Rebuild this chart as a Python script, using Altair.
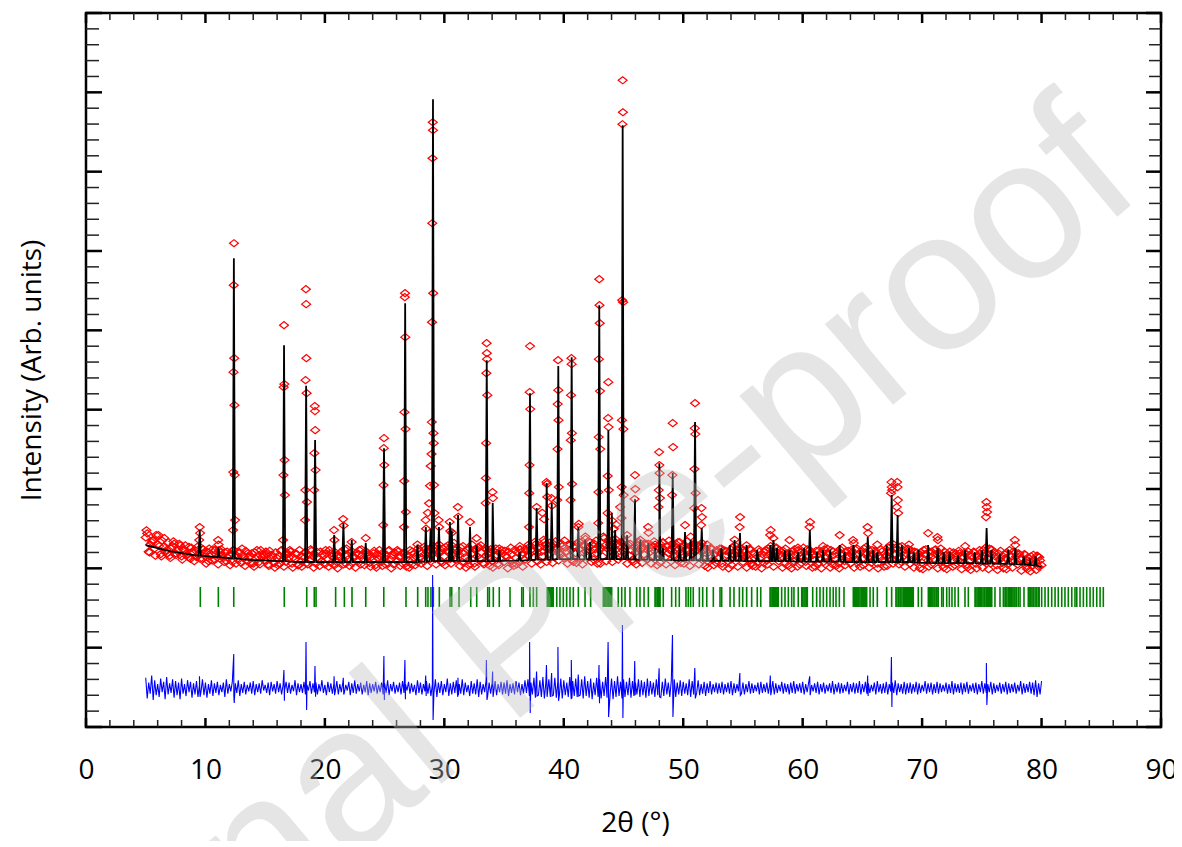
import altair as alt
import pandas as pd

FONT = "Open Sans"

# ---------------- data ----------------
# observed background, scan grid 5.000, 5.250, ... 80.000 deg
obs_bg_y = [
    2390, 2210, 2330, 2250, 2300, 2180, 2270, 2230, 2160, 2280, 2190, 2240,
    2150, 2230, 2170, 2120, 2200, 2140, 2180, 2120, 2150, 2090, 2170, 2110,
    2140, 2200, 2130, 2090, 2160, 2080, 2140, 2110, 2070, 2130, 2090, 2150,
    2060, 2120, 2080, 2140, 2100, 2050, 2120, 2070, 2130, 2060, 2110, 2080,
    2140, 2060, 2110, 2040, 2090, 2130, 2070, 2100, 2150, 2060, 2120, 2090,
    2050, 2110, 2070, 2130, 2080, 2140, 2100, 2060, 2120, 2070, 2140, 2090,
    2050, 2110, 2150, 2070, 2100, 2040, 2120, 2080, 2130, 2070, 2110, 2050,
    2090, 2140, 2060, 2120, 2100, 2050, 2130, 2080, 2140, 2090, 2170, 2110,
    2180, 2120, 2200, 2090, 2150, 2230, 2120, 2190, 2110, 2170, 2080, 2140,
    2100, 2180, 2060, 2150, 2120, 2070, 2160, 2200, 2090, 2150, 2060, 2120,
    2080, 2140, 2100, 2060, 2130, 2090, 2170, 2110, 2160, 2230, 2140, 2200,
    2260, 2150, 2300, 2180, 2220, 2140, 2250, 2170, 2130, 2210, 2160, 2100,
    2190, 2240, 2130, 2280, 2160, 2220, 2110, 2190, 2230, 2150, 2290, 2340,
    2260, 2180, 2310, 2140, 2220, 2280, 2160, 2110, 2200, 2140, 2250, 2170,
    2120, 2210, 2150, 2240, 2180, 2260, 2140, 2190, 2230, 2150, 2110, 2200,
    2170, 2240, 2130, 2180, 2210, 2150, 2260, 2120, 2090, 2160, 2110, 2070,
    2130, 2060, 2150, 2090, 2110, 2170, 2240, 2130, 2080, 2150, 2100, 2060,
    2120, 2080, 2140, 2070, 2100, 2180, 2130, 2210, 2090, 2140, 2060, 2120,
    2170, 2090, 2110, 2050, 2130, 2080, 2150, 2210, 2100, 2060, 2120, 2080,
    2140, 2090, 2050, 2110, 2070, 2190, 2090, 2130, 2060, 2150, 2110, 2080,
    2120, 2200, 2140, 2070, 2110, 2060, 2130, 2090, 2150, 2200, 2110, 2180,
    2130, 2080, 2160, 2100, 2060, 2120, 2080, 2140, 2070, 2180, 2100, 2050,
    2120, 2170, 2080, 2110, 2060, 2130, 2090, 2040, 2100, 2070, 2140, 2050,
    2090, 2130, 2060, 2110, 2140, 2080, 2120, 2060, 2100, 2040, 2110, 2070,
    2130, 2060, 2150, 2090, 2050, 2110, 2070, 2030, 2090, 2040, 2080, 2020,
    2040,
]
obs_bg_x = [round(5 + 0.25 * i, 4) for i in range(len(obs_bg_y))]
# observed background, scan grid 5.125, 5.375, ... 79.875 deg
obs_bg2_y = [
    2440, 2300, 2360, 2420, 2280, 2350, 2210, 2330, 2250, 2310, 2220, 2290,
    2240, 2190, 2270, 2200, 2230, 2170, 2260, 2190, 2210, 2150, 2240, 2180,
    2230, 2160, 2200, 2140, 2190, 2230, 2160, 2200, 2170, 2220, 2140, 2190,
    2200, 2150, 2230, 2160, 2180, 2220, 2140, 2200, 2160, 2230, 2150, 2190,
    2210, 2140, 2180, 2230, 2150, 2200, 2170, 2220, 2180, 2140, 2210, 2160,
    2190, 2230, 2150, 2200, 2170, 2210, 2240, 2160, 2200, 2150, 2190, 2230,
    2160, 2210, 2170, 2140, 2220, 2180, 2150, 2200, 2170, 2230, 2160, 2190,
    2210, 2150, 2200, 2170, 2230, 2180, 2150, 2210, 2190, 2240, 2200, 2260,
    2230, 2280, 2210, 2250, 2270, 2200, 2290, 2230, 2210, 2260, 2190, 2240,
    2250, 2190, 2230, 2270, 2200, 2250, 2180, 2240, 2220, 2170, 2210, 2190,
    2160, 2210, 2180, 2230, 2200, 2240, 2190, 2220, 2270, 2210, 2300, 2250,
    2210, 2330, 2250, 2290, 2310, 2240, 2200, 2280, 2260, 2300, 2230, 2270,
    2320, 2250, 2290, 2210, 2270, 2300, 2240, 2280, 2260, 2380, 2250, 2300,
    2350, 2240, 2280, 2320, 2250, 2300, 2230, 2270, 2290, 2230, 2260, 2310,
    2250, 2290, 2220, 2270, 2300, 2240, 2280, 2230, 2270, 2310, 2240, 2260,
    2290, 2230, 2270, 2310, 2240, 2280, 2220, 2250, 2200, 2240, 2180, 2220,
    2190, 2230, 2170, 2210, 2260, 2200, 2230, 2180, 2210, 2170, 2230, 2190,
    2160, 2210, 2180, 2230, 2250, 2190, 2270, 2200, 2180, 2220, 2160, 2200,
    2210, 2170, 2230, 2160, 2200, 2240, 2190, 2170, 2220, 2180, 2200, 2150,
    2190, 2230, 2170, 2200, 2240, 2180, 2210, 2160, 2200, 2240, 2170, 2210,
    2250, 2190, 2220, 2170, 2200, 2160, 2210, 2180, 2260, 2220, 2300, 2240,
    2270, 2210, 2190, 2230, 2170, 2210, 2160, 2200, 2230, 2180, 2210, 2160,
    2240, 2200, 2170, 2210, 2180, 2150, 2200, 2160, 2190, 2140, 2180, 2210,
    2160, 2200, 2150, 2190, 2230, 2180, 2250, 2170, 2150, 2190, 2140, 2180,
    2200, 2160, 2210, 2150, 2180, 2130, 2170, 2140, 2150, 2110, 2160, 2100,
]
obs_bg2_x = [round(5.125 + 0.25 * i, 4) for i in range(len(obs_bg2_y))]
# observed background, scan grid 5.0625, 5.3125, ... 79.8125 deg
obs_bg3_y = [
    2480, 2200, 2350, 2160, 2420, 2150, 2380, 2190, 2130, 2340, 2170, 2310,
    2110, 2290, 2140, 2260, 2090, 2270, 2120, 2240, 2060, 2250, 2100, 2230,
    2050, 2240, 2080, 2210, 2040, 2230, 2060, 2200, 2250, 2030, 2190, 2060,
    2020, 2230, 2050, 2180, 2210, 2030, 2170, 2010, 2040, 2220, 2020, 2180,
    2230, 2010, 2190, 2040, 2020, 2200, 2050, 2240, 2010, 2210, 2030, 2180,
    2230, 2020, 2190, 2040, 2000, 2200, 2050, 2250, 2030, 2210, 2010, 2180,
    2240, 2040, 2200, 2020, 2190, 2010, 2230, 2030, 2050, 2220, 2000, 2200,
    2230, 2030, 2180, 2020, 2010, 2210, 2040, 2250, 2060, 2270, 2030, 2230,
    2280, 2050, 2300, 2070, 2040, 2290, 2060, 2320, 2250, 2030, 2280, 2010,
    2040, 2300, 2020, 2260, 2290, 2050, 2240, 2030, 2010, 2250, 2040, 2230,
    2220, 2000, 2260, 2030, 2050, 2280, 2020, 2240, 2300, 2060, 2330, 2090,
    2050, 2360, 2080, 2320, 2070, 2340, 2100, 2310, 2350, 2060, 2300, 2080,
    2070, 2330, 2050, 2370, 2340, 2080, 2310, 2060, 2060, 2400, 2090, 2350,
    2080, 2370, 2110, 2330, 2340, 2060, 2310, 2080, 2050, 2330, 2070, 2300,
    2310, 2060, 2340, 2040, 2070, 2320, 2050, 2350, 2310, 2040, 2330, 2070,
    2060, 2340, 2030, 2290, 2300, 2050, 2320, 2030, 2010, 2260, 2040, 2230,
    2250, 2020, 2220, 2000, 2040, 2290, 2020, 2250, 2230, 2010, 2250, 2030,
    2020, 2240, 2000, 2210, 2050, 2280, 2020, 2260, 2230, 2010, 2250, 2030,
    2000, 2240, 2020, 2200, 2260, 2030, 2230, 2010, 2020, 2220, 2000, 2240,
    2250, 2010, 2210, 2030, 2000, 2260, 2040, 2220, 2230, 2010, 2250, 2020,
    2040, 2270, 2010, 2230, 2220, 2000, 2240, 2020, 2030, 2290, 2060, 2260,
    2050, 2280, 2020, 2250, 2230, 2010, 2200, 2000, 1990, 2240, 2020, 2210,
    2230, 2000, 2250, 2010, 1990, 2210, 2020, 2190, 2220, 1990, 2200, 2010,
    1980, 2210, 2000, 2230, 2010, 2260, 1990, 2240, 2200, 1980, 2220, 2000,
    1990, 2230, 2010, 2200, 2190, 1970, 2180, 1990, 1960, 2170, 1980, 2140,
]
obs_bg3_x = [round(5.0625 + 0.25 * i, 4) for i in range(len(obs_bg3_y))]

# observed points on the Bragg peaks (2theta, counts)
obs_peak_x = [
    9.48, 9.52, 9.55, 11.06, 11.10,
    12.31, 12.33, 12.35, 12.37, 12.39, 12.41, 12.43, 12.45, 12.48,
    16.50, 16.53, 16.55, 16.58, 16.60, 16.62, 16.65,
    18.34, 18.36, 18.38, 18.41, 18.43, 18.45, 18.47, 18.50,
    19.10, 19.12, 19.15, 19.17, 19.19, 19.22,
    20.76, 20.80, 21.53, 21.57, 22.24, 23.42,
    24.88, 24.91, 24.93, 24.95, 24.97,
    26.62, 26.64, 26.66, 26.69, 26.71, 26.73, 26.75, 26.78,
    27.75, 28.43, 28.47, 28.62, 28.72, 28.80, 28.86,
    28.93, 28.95, 28.97, 28.99, 29.01, 29.03, 29.05, 29.07, 29.09, 29.11, 29.14, 29.17,
    29.53, 29.57, 30.45, 30.50, 30.63, 31.13, 31.17, 32.15, 32.70,
    33.46, 33.48, 33.50, 33.52, 33.54, 33.56, 33.58, 33.60,
    34.03, 34.07, 34.60, 36.30,
    37.09, 37.11, 37.13, 37.15, 37.17, 37.19,
    37.73, 38.20, 38.35, 38.55, 38.59, 38.62, 38.97, 39.01,
    39.45, 39.47, 39.49, 39.52, 39.54, 39.56, 39.58,
    40.57, 40.59, 40.61, 40.64, 40.66, 40.68, 40.70,
    41.22, 41.26, 41.80, 42.20, 42.70,
    42.88, 42.90, 42.92, 42.94, 42.97, 42.99, 43.01, 43.03, 43.05,
    43.66, 43.68, 43.71, 43.73, 43.75, 43.77,
    44.05, 44.20, 44.40, 44.72,
    44.83, 44.85, 44.87, 44.89, 44.91, 44.93, 44.95, 44.97, 44.99, 45.01,
    45.30, 45.93, 45.96, 45.99, 46.40, 47.06, 47.10, 47.65,
    47.93, 47.95, 47.98, 48.00, 48.02, 48.05, 48.30,
    49.06, 49.09, 49.12, 49.15, 49.70, 50.15, 50.62,
    50.92, 50.94, 50.97, 50.99, 51.01, 51.04,
    51.50, 51.53, 51.57, 52.00, 53.20, 54.30, 54.73, 54.76, 55.30,
    57.28, 57.32, 57.55, 58.90, 59.60, 60.58, 60.62, 61.70, 63.10,
    64.22, 64.28, 65.43, 65.47, 66.25,
    67.40, 67.43, 67.46, 67.49, 67.88, 67.91, 67.94, 67.97, 68.00,
    68.90, 70.50, 71.28, 71.32, 73.60,
    75.35, 75.38, 75.41, 75.44, 77.76, 77.80, 79.70,
]
obs_peak_y = [
    2356, 2520, 2444, 2356, 2300,
    2482, 3213, 4473, 5569, 6098, 4649, 4057, 3175, 2608,
    2356, 3175, 4284, 5065, 4322, 3364, 2923,
    2608, 2986, 4372, 5519, 5330, 4649, 4208, 2835,
    2986, 3452, 4045, 3982, 3742, 3238,
    2482, 2356, 2621, 2540, 2331, 2381,
    2545, 3049, 3515, 3641, 3301,
    2520, 3100, 3969, 5418, 5468, 4914, 3755, 2709,
    2300, 2608, 2500, 2700, 2820, 3040, 3290,
    3440, 3843, 5103, 6350, 7169, 7623, 7522, 5468, 3704, 3578, 3049, 2696,
    2608, 2520, 2583, 2470, 2450, 2772, 2650, 2583, 2380,
    2822, 3137, 3578, 4460, 4838, 4712, 4637, 4183,
    2961, 2885, 2250, 2240,
    2520, 2948, 3301, 4221, 4801, 4007,
    2772, 2700, 2620, 3087, 3062, 2900, 2885, 2790,
    2860, 3503, 4070, 4624, 4246, 3868, 3024,
    2860, 3616, 4183, 4649, 4574, 3704, 3062,
    2520, 2560, 2400, 2331, 2350,
    2570, 2961, 3654, 4637, 5645, 5317, 5090, 4234, 3503,
    2696, 3163, 3893, 4347, 3780, 2986,
    2600, 2500, 2550, 2772,
    2633, 3024, 3868, 5380, 7598, 8152, 7749, 5355, 3755, 2923,
    2420, 2873, 3175, 2999, 2360, 2520, 2450, 2300,
    2772, 2986, 3465, 3301, 3200, 2885, 2330,
    2923, 3175, 3830, 3528, 2330, 2545, 2400,
    2759, 3251, 3767, 4082, 3692, 2948,
    2545, 2759, 2646, 2300, 2250, 2360, 2520, 2646, 2290,
    2419, 2482, 2380, 2356, 2260, 2520, 2583, 2280, 2419,
    2356, 2318, 2520, 2444, 2300,
    2948, 3087, 3024, 2986, 2772, 3087, 3024, 2860, 2696,
    2300, 2444, 2394, 2356, 2280,
    2646, 2835, 2772, 2709, 2356, 2293, 2150,
]

# calculated profile: background points
calc_bg_x = [5, 6, 7, 8, 9, 10, 11, 12, 13, 14, 15, 16, 17, 18, 19, 20, 22, 24,
             26, 28, 30, 32, 34, 36, 38, 40, 42, 44, 46, 48, 50, 52, 54, 56,
             58, 60, 62, 64, 66, 68, 70, 72, 74, 76, 77, 78, 79, 80]
calc_bg_y = [2293, 2255, 2218, 2192, 2167, 2155, 2140, 2128, 2117, 2105, 2100,
             2092, 2085, 2080, 2080, 2080, 2080, 2080, 2080, 2085, 2095, 2090,
             2090, 2095, 2110, 2115, 2110, 2115, 2110, 2105, 2100, 2095, 2095,
             2090, 2090, 2085, 2085, 2080, 2080, 2080, 2070, 2065, 2065, 2060,
             2055, 2050, 2040, 2018]
# calculated peaks: position, top, background under the peak
calc_pk_x = [9.52, 11.08, 12.38, 16.58, 18.43, 19.18, 20.78, 21.55, 22.25, 23.42,
             24.95, 26.72, 27.75, 28.45, 28.85, 29.05, 29.55, 30.47, 30.62, 31.15,
             32.15, 32.70, 33.55, 34.05, 34.60, 36.30, 37.17, 37.73, 38.57, 38.99,
             39.54, 40.66, 41.22, 41.80, 42.20, 42.97, 43.73, 44.02, 44.30, 44.93,
             45.30, 45.96, 46.40, 47.08, 47.65, 48.00, 48.30, 49.12, 49.70, 50.15,
             50.62, 50.99, 51.55, 52.00, 52.50, 53.20, 53.90, 54.30, 54.75, 55.30,
             56.20, 57.30, 57.55, 57.85, 58.50, 58.90, 59.60, 60.10, 60.60, 61.20,
             61.70, 62.30, 63.10, 63.50, 64.25, 64.80, 65.45, 65.90, 66.25, 67.03,
             67.45, 67.95, 68.30, 68.90, 69.30, 69.70, 70.50, 71.30, 71.80, 72.30,
             73.00, 73.60, 74.40, 75.00, 75.40, 75.80, 76.50, 77.20, 77.80, 78.50,
             79.00, 79.50]
calc_pk_top = [2482, 2268, 5909, 4813, 4300, 3616, 2419, 2570, 2356, 2318,
               3515, 5342, 2300, 2520, 2500, 7913, 2520, 2583, 2480, 2671,
               2520, 2293, 4624, 2822, 2230, 2205, 4208, 2759, 3074, 2822,
               4549, 4662, 2520, 2356, 2331, 5317, 3742, 2696, 2482, 7585,
               2419, 2873, 2356, 2318, 2255, 3326, 2260, 3200, 2293, 2457,
               2356, 3843, 2507, 2293, 2230, 2255, 2293, 2356, 2444, 2293,
               2230, 2293, 2356, 2255, 2230, 2230, 2205, 2255, 2482, 2205,
               2230, 2230, 2293, 2205, 2293, 2230, 2394, 2230, 2205, 2293,
               2923, 2671, 2293, 2255, 2205, 2230, 2293, 2255, 2205, 2205,
               2167, 2230, 2205, 2230, 2507, 2230, 2180, 2230, 2255, 2150,
               2125, 2150]
calc_pk_base = [2160, 2140, 2128, 2092, 2080, 2080, 2080, 2080, 2080, 2080,
                2080, 2080, 2080, 2085, 2090, 2090, 2090, 2095, 2095, 2095,
                2090, 2090, 2090, 2090, 2090, 2095, 2105, 2110, 2110, 2110,
                2115, 2115, 2115, 2110, 2110, 2115, 2115, 2115, 2115, 2115,
                2115, 2110, 2110, 2110, 2105, 2105, 2105, 2100, 2100, 2100,
                2100, 2100, 2100, 2095, 2095, 2095, 2095, 2095, 2095, 2090,
                2090, 2090, 2090, 2090, 2090, 2090, 2085, 2085, 2085, 2085,
                2085, 2085, 2085, 2080, 2080, 2080, 2080, 2080, 2080, 2080,
                2080, 2080, 2080, 2080, 2075, 2070, 2070, 2065, 2065, 2065,
                2065, 2065, 2065, 2060, 2060, 2060, 2058, 2055, 2052, 2050,
                2045, 2035]
PEAK_HALF_WIDTH = 0.09

# difference curve: upper excursions on grid 5.000, 5.250, ... 80.000
diff_up_y = [
    620, 560, 650, 590, 540, 610, 570, 630, 550, 600, 580, 560, 610, 540, 590, 570,
    550, 580, 530, 600, 560, 540, 590, 550, 570, 530, 560, 600, 540, 570, 550, 590,
    540, 570, 530, 560, 580, 540, 550, 590, 530, 560, 570, 540, 580, 550, 530, 570,
    560, 530, 590, 550, 540, 570, 530, 580, 550, 560, 540, 590, 530, 570, 550, 540,
    580, 540, 560, 530, 570, 550, 590, 540, 560, 530, 580, 550, 540, 570, 530, 560,
    550, 590, 540, 570, 530, 560, 580, 540, 570, 550, 530, 590, 560, 540, 580, 550,
    540, 600, 560, 580, 540, 610, 550, 570, 590, 540, 600, 560, 530, 580, 550, 600,
    570, 540, 590, 560, 550, 580, 540, 570, 560, 590, 540, 550, 580, 560, 540, 590,
    600, 560, 620, 570, 590, 630, 560, 600, 580, 620, 570, 610, 590, 560, 630, 580,
    610, 570, 600, 640, 580, 610, 560, 620, 600, 570, 630, 590, 610, 580, 640, 570,
    600, 570, 620, 580, 560, 600, 590, 570, 610, 580, 560, 600, 590, 570, 610, 560,
    580, 600, 560, 590, 570, 550, 600, 580, 560, 590, 540, 570, 550, 580, 540, 560,
    550, 570, 540, 560, 580, 550, 540, 570, 560, 540, 580, 550, 530, 560, 570, 540,
    560, 540, 580, 550, 530, 570, 550, 540, 560, 580, 540, 550, 570, 540, 560, 530,
    550, 570, 540, 560, 530, 550, 580, 540, 560, 550, 530, 570, 540, 560, 550, 580,
    540, 570, 550, 530, 560, 580, 540, 550, 570, 540, 560, 590, 550, 540, 570, 550,
    560, 540, 570, 550, 530, 580, 550, 560, 540, 570, 550, 530, 560, 540, 580, 550,
    540, 560, 550, 570, 530, 550, 560, 540, 580, 550, 540, 570, 550, 530, 560, 540,
    570, 550, 540, 560, 530, 580, 550, 540, 570, 560, 590, 550, 580,
]
diff_up_x = [round(5 + 0.25 * i, 4) for i in range(len(diff_up_y))]
# difference curve: lower excursions on grid 5.125, 5.375, ... 79.875
diff_dn_y = [
    360, 420, 340, 400, 380, 440, 350, 410, 430, 370, 400, 350, 420, 390, 440, 370,
    410, 380, 440, 400, 370, 420, 390, 430, 400, 440, 380, 420, 450, 400, 430, 390,
    430, 410, 450, 420, 400, 440, 420, 460, 430, 400, 450, 420, 440, 410, 460, 430,
    420, 450, 400, 440, 430, 410, 460, 420, 440, 410, 450, 430, 400, 440, 420, 450,
    410, 440, 430, 460, 400, 430, 420, 450, 410, 440, 400, 430, 450, 420, 440, 410,
    430, 400, 450, 420, 440, 410, 430, 460, 420, 440, 400, 430, 410, 450, 420, 390,
    420, 380, 430, 400, 440, 390, 410, 430, 380, 420, 400, 440, 390, 420, 410, 380,
    410, 440, 390, 420, 430, 400, 440, 410, 420, 390, 430, 410, 440, 400, 420, 430,
    390, 410, 370, 400, 380, 360, 410, 380, 400, 370, 390, 360, 400, 380, 350, 390,
    380, 400, 360, 390, 370, 350, 400, 380, 360, 390, 370, 400, 350, 380, 390, 360,
    380, 400, 370, 390, 410, 380, 400, 370, 390, 410, 380, 400, 370, 390, 410, 380,
    400, 380, 410, 390, 420, 400, 380, 410, 430, 400, 420, 390, 430, 410, 440, 420,
    430, 410, 440, 420, 400, 430, 450, 420, 410, 440, 420, 430, 450, 410, 430, 440,
    420, 440, 410, 430, 450, 420, 440, 410, 430, 420, 450, 430, 410, 440, 420, 450,
    430, 410, 440, 420, 450, 430, 410, 440, 420, 430, 450, 410, 440, 420, 430, 410,
    440, 420, 430, 450, 410, 440, 420, 430, 410, 450, 430, 400, 440, 420, 410, 430,
    420, 440, 410, 430, 450, 420, 440, 410, 430, 420, 440, 450, 420, 430, 410, 440,
    430, 410, 440, 420, 450, 430, 410, 440, 420, 430, 440, 410, 430, 450, 420, 440,
    410, 430, 440, 420, 450, 410, 430, 440, 420, 400, 380, 410,
]
diff_dn_x = [round(5.125 + 0.25 * i, 4) for i in range(len(diff_dn_y))]
diff_sp_x = [9.50, 9.55, 12.37, 12.41, 16.57, 16.61, 18.42, 18.47, 19.17, 19.22,
             20.77, 20.81, 21.54, 21.58, 24.94, 24.98, 26.70, 26.74, 28.44, 28.48,
             29.02, 29.06, 31.14, 31.18, 33.52, 33.57, 34.04, 34.08, 37.14, 37.19,
             37.72, 37.76, 38.55, 38.60, 38.98, 39.02, 39.51, 39.56, 40.63, 40.68,
             41.21, 41.25, 42.95, 42.99, 43.71, 43.75, 44.91, 44.95, 45.94, 45.98,
             47.98, 48.02, 49.10, 49.14, 50.97, 51.01, 54.74, 54.78, 57.29, 57.33,
             60.59, 60.63, 65.44, 65.48, 67.43, 67.47, 75.38, 75.42]
diff_sp_y = [640, 380, 920, 302, 718, 330, 1071, 214, 770, 380,
             640, 400, 620, 410, 895, 340, 844, 350, 650, 390,
             1915, 88, 620, 400, 844, 340, 700, 380, 1071, 176,
             700, 390, 780, 380, 680, 390, 1008, 330, 844, 360,
             660, 390, 781, 300, 1071, 126, 1285, 113, 832, 400,
             740, 380, 1159, 126, 743, 360, 680, 400, 650, 400,
             640, 400, 650, 390, 882, 252, 806, 277]

# Bragg reflection positions (2theta)
bragg_x = [
    9.57, 11.08, 12.37, 16.60, 18.48, 19.11, 19.26, 20.90, 21.63, 22.27, 23.42,
    24.93, 26.79, 27.77, 28.44, 28.63, 28.88, 29.08, 29.58, 30.48, 30.62, 31.23,
    32.21, 32.71, 33.63, 33.77, 34.10, 34.60, 35.50, 36.48, 36.61, 37.17, 37.45,
    37.73, 38.62, 38.70, 38.78, 38.85, 38.93, 39.00, 39.06, 39.12, 39.41, 39.68,
    39.96, 40.24, 40.52, 40.80, 41.22, 41.78, 42.25, 43.31, 43.40, 43.45, 43.53,
    43.62, 43.70, 43.76, 43.85, 43.93, 44.01, 44.56, 44.85, 45.13, 45.54, 46.10,
    46.38, 46.72, 47.08, 47.64, 47.72, 47.83, 47.92, 48.00, 48.06, 48.33, 49.03,
    49.37, 49.67, 50.23, 50.42, 50.62, 50.84, 51.35, 51.63, 51.97, 52.52, 53.08,
    53.22, 53.92, 54.25, 54.70, 54.98, 55.31, 55.73, 56.20, 56.49, 57.27, 57.35,
    57.45, 57.54, 57.62, 57.70, 57.83, 57.90, 57.96, 58.24, 58.52, 58.80, 59.08,
    59.27, 59.63, 59.92, 60.00, 60.11, 60.20, 60.30, 60.39, 60.84, 61.17, 61.45,
    61.73, 62.01, 62.29, 62.56, 62.79, 63.07, 63.46, 64.24, 64.35, 64.45, 64.52,
    64.62, 64.70, 64.80, 64.90, 65.00, 65.08, 65.17, 65.25, 65.36, 65.64, 65.91,
    66.25, 67.03, 67.45, 67.81, 67.90, 68.04, 68.15, 68.22, 68.32, 68.45, 68.50,
    68.59, 68.70, 68.80, 68.88, 68.95, 69.05, 69.13, 69.20, 69.26, 69.68, 69.96,
    70.52, 70.60, 70.70, 70.80, 70.90, 71.00, 71.08, 71.20, 71.25, 71.35, 71.64,
    71.77, 72.06, 72.28, 72.50, 72.75, 73.03, 73.59, 73.87, 74.43, 74.50, 74.60,
    74.70, 74.80, 74.90, 74.99, 75.10, 75.20, 75.27, 75.40, 75.45, 75.54, 75.65,
    75.75, 75.83, 76.10, 76.52, 76.80, 76.94, 77.00, 77.10, 77.22, 77.30, 77.40,
    77.50, 77.60, 77.70, 77.78, 77.90, 78.05, 78.20, 78.53, 78.89, 78.95, 79.03,
    79.10, 79.20, 79.30, 79.45, 79.55, 79.60, 79.73, 79.80, 80.01, 80.29, 80.56,
    80.85, 81.13, 81.40, 81.69, 81.96, 82.24, 82.53, 82.80, 82.95, 83.22, 83.50,
    83.78, 84.06, 84.33, 84.62, 84.90, 85.17,
]
BRAGG_TOP, BRAGG_BOTTOM = 1765, 1513

# axis frame tick values
x_major = [0, 10, 20, 30, 40, 50, 60, 70, 80, 90]
x_minor = [v for v in range(0, 91, 2) if v % 10]
y_major = [0, 1000, 2000, 3000, 4000, 5000, 6000, 7000, 8000, 9000]
y_minor = [v for v in range(0, 9001, 200) if v % 1000]

# ---------------- tables ----------------
obs_df = pd.DataFrame({"x": obs_bg_x + obs_bg2_x + obs_bg3_x + obs_peak_x,
                       "y": obs_bg_y + obs_bg2_y + obs_bg3_y + obs_peak_y})

cx, cy = list(calc_bg_x), list(calc_bg_y)
for c, t, b in zip(calc_pk_x, calc_pk_top, calc_pk_base):
    cx += [c - PEAK_HALF_WIDTH, c, c + PEAK_HALF_WIDTH]
    cy += [b, t, b]
calc_df = pd.DataFrame({"x": cx, "y": cy}).sort_values("x", kind="stable").reset_index(drop=True)
calc_df["i"] = range(len(calc_df))

diff_df = pd.DataFrame({"x": diff_up_x + diff_dn_x + diff_sp_x,
                        "y": diff_up_y + diff_dn_y + diff_sp_y})
diff_df = diff_df.sort_values("x", kind="stable").reset_index(drop=True)
diff_df["i"] = range(len(diff_df))

bragg_df = pd.DataFrame({"x": bragg_x, "top": BRAGG_TOP, "bot": BRAGG_BOTTOM})

# ---------------- chart ----------------
W, H = 1075, 714
xs = alt.Scale(domain=[0, 90], nice=False, zero=False)
ys = alt.Scale(domain=[0, 9000], nice=False, zero=False)

AX_X = alt.Axis(
    values=x_major, format="d", ticks=False, tickSize=0, domain=False, grid=False,
    labelFont=FONT, labelFontSize=28, labelColor="black", labelPadding=29,
    labelFlush=False, labelOverlap=False,
    title="2θ (°)", titleFont=FONT, titleFontSize=28, titleFontWeight="normal",
    titleColor="black", titleAlign="center", titleBaseline="alphabetic",
    titleX=549, titleY=104)
AX_Y = alt.Axis(
    labels=False, ticks=False, domain=False, grid=False,
    title="Intensity (Arb. units)", titleFont=FONT, titleFontSize=28,
    titleFontWeight="normal", titleColor="black", titleAngle=270,
    titleAlign="center", titleBaseline="alphabetic", titleX=-46, titleY=357)

diamond = "M -1 0 L 0 -0.8 L 1 0 L 0 0.8 Z"

obs_layer = alt.Chart(obs_df).mark_point(
    shape=diamond, size=80, filled=False, color="#ff0000", strokeWidth=1.2, opacity=1
).encode(
    x=alt.X("x:Q", scale=xs, axis=AX_X),
    y=alt.Y("y:Q", scale=ys, axis=AX_Y),
)

calc_layer = alt.Chart(calc_df).mark_line(color="black", strokeWidth=1.8).encode(
    x=alt.X("x:Q", scale=xs, axis=AX_X),
    y=alt.Y("y:Q", scale=ys, axis=AX_Y),
    order="i:Q",
)

bragg_layer = alt.Chart(bragg_df).mark_rule(color="#008000", strokeWidth=1.6).encode(
    x=alt.X("x:Q", scale=xs, axis=AX_X),
    y=alt.Y("top:Q", scale=ys, axis=AX_Y),
    y2="bot:Q",
)

diff_layer = alt.Chart(diff_df).mark_line(color="#0000ff", strokeWidth=1.1).encode(
    x=alt.X("x:Q", scale=xs, axis=AX_X),
    y=alt.Y("y:Q", scale=ys, axis=AX_Y),
    order="i:Q",
)


def xticks(vals, y0, y1, w, color):
    return alt.Chart(pd.DataFrame({"v": vals})).mark_rule(color=color, strokeWidth=w).encode(
        x=alt.X("v:Q", scale=xs, axis=AX_X), y=alt.value(y0), y2=alt.value(y1))


def yticks(vals, x0, x1, w, color):
    return alt.Chart(pd.DataFrame({"v": vals})).mark_rule(color=color, strokeWidth=w).encode(
        y=alt.Y("v:Q", scale=ys, axis=AX_Y), x=alt.value(x0), x2=alt.value(x1))


tick_layers = [
    xticks(x_major, H, H - 9, 2.5, "black"),
    xticks(x_minor, H, H - 7, 1.5, "#222222"),
    xticks(x_major, 0, 10, 2.5, "black"),
    xticks(x_minor, 0, 7, 1.5, "#222222"),
    yticks(y_major, 0, 16, 2.5, "black"),
    yticks(y_minor, 0, 13, 1.5, "#222222"),
    yticks(y_major, W, W - 15, 2.5, "black"),
    yticks(y_minor, W, W - 12, 1.5, "#222222"),
]

wm = alt.Chart(pd.DataFrame({"t": ["Journal Pre-proof"]})).mark_text(
    angle=320, fontSize=200, font="Liberation Sans", color="#bdbdbd", opacity=0.38,
    align="center", baseline="middle"
).encode(text="t:N", x=alt.value(430), y=alt.value(630))

chart = alt.layer(
    obs_layer, calc_layer, bragg_layer, diff_layer, *tick_layers, wm
).properties(
    width=W, height=H,
    padding={"left": 78, "top": 5, "right": 13, "bottom": 114},
    autosize=alt.AutoSizeParams(type="none"),
).configure_view(stroke="black", strokeWidth=2.5)

chart.save("out.html", embed_options={"renderer": "svg", "actions": False})
